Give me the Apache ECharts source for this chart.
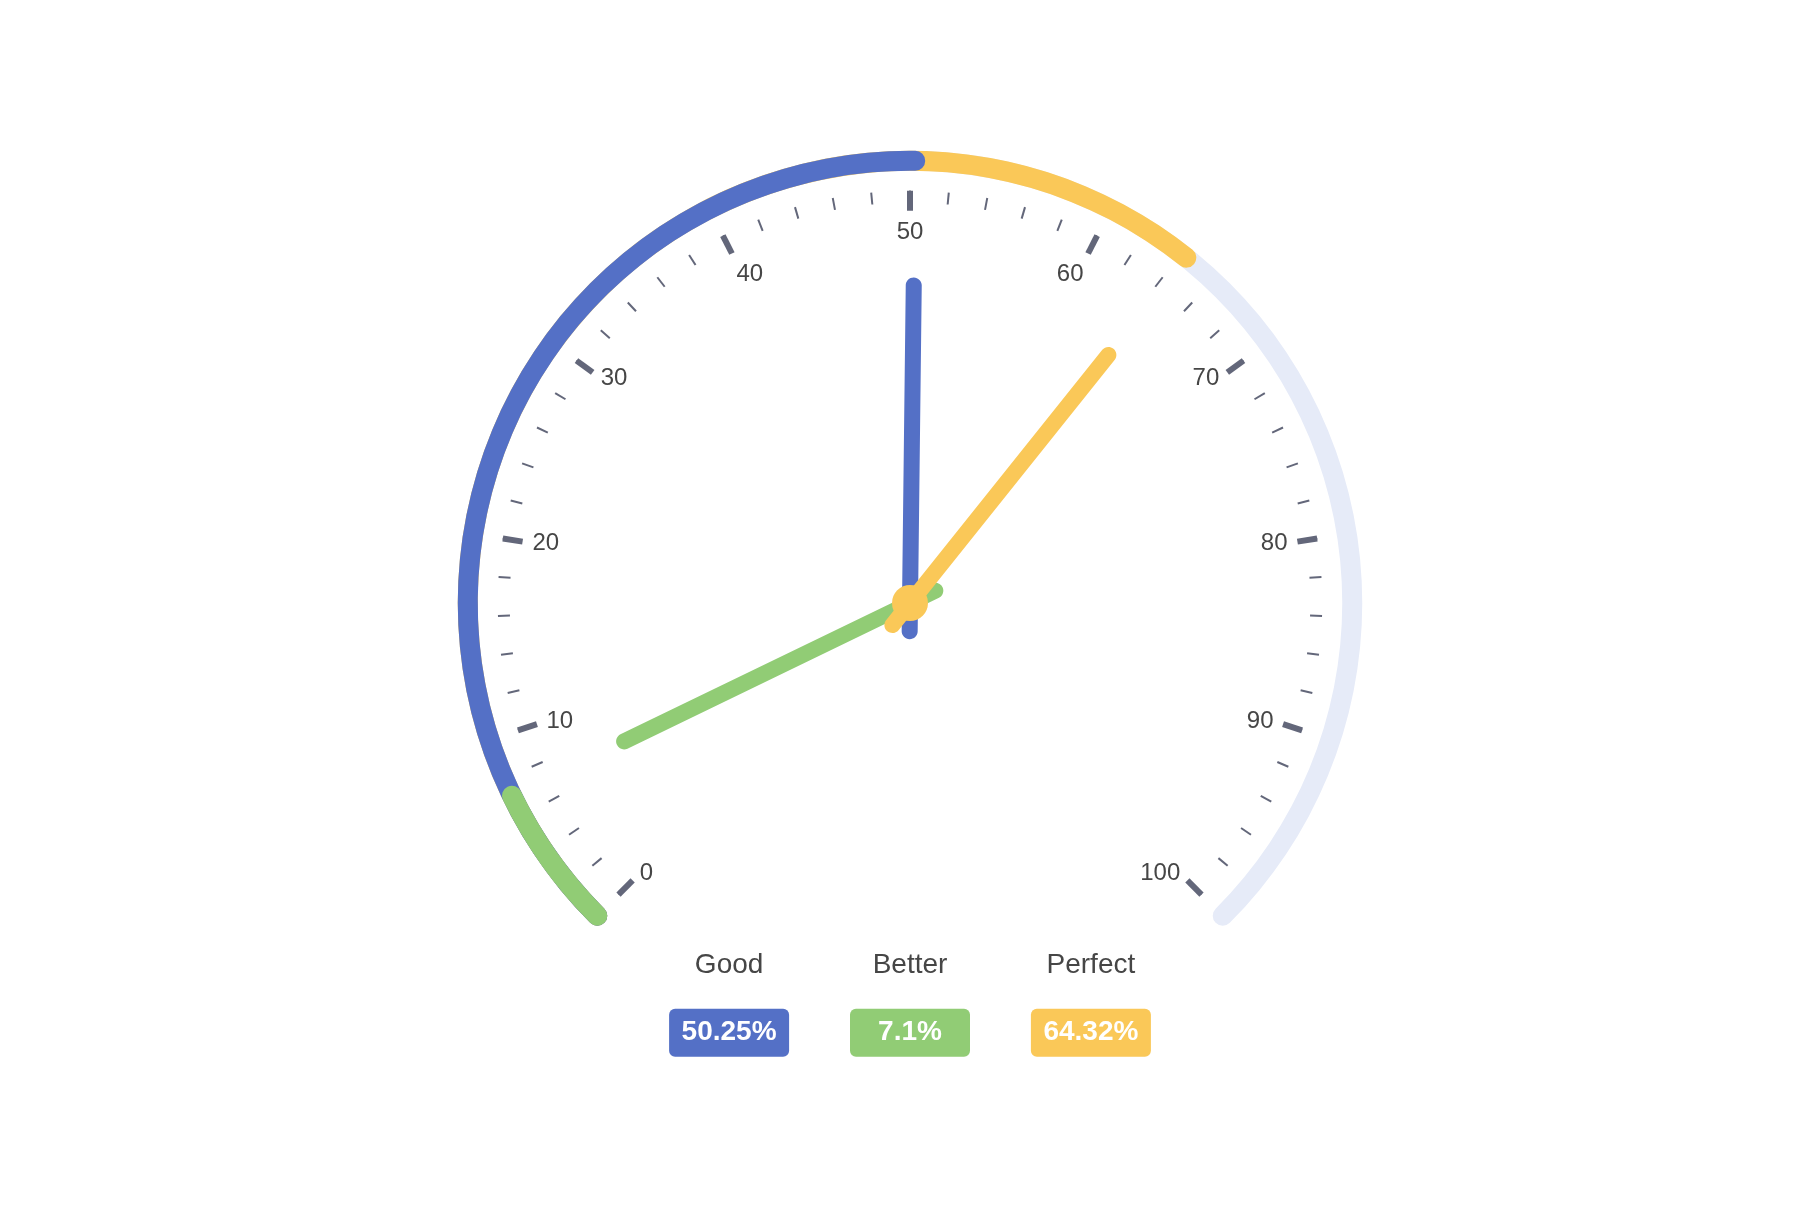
<!DOCTYPE html>
<html>
<head>
<meta charset="utf-8">
<script src="https://cdn.jsdelivr.net/npm/echarts@6/dist/echarts.min.js"></script>
<style>html,body{margin:0;padding:0;background:#fff;}#main{width:1820px;height:1206px;}</style>
</head>
<body>
<div id="main"></div>
<script>
const names = ['Good', 'Better', 'Perfect'];
const values = [50.25, 7.1, 64.32];
const titleX = ['-40%', '0%', '40%'];
const palette = ['#5470c6', '#91cc75', '#fac858'];

const FONT = 'Liberation Sans, Arial, sans-serif';
const gaugeData = names.map((n, i) => ({
  value: values[i],
  name: n,
  title: { offsetCenter: [titleX[i], '80%'] },
  detail: { offsetCenter: [titleX[i], '95%'] }
}));

const chart = echarts.init(document.getElementById('main'), null, { renderer: 'canvas' });
chart.setOption({
  animation: false,
  color: palette,
  textStyle: { fontFamily: FONT },
  series: [{
    type: 'gauge',
    radius: '75%',
    anchor: { show: true, showAbove: true, size: 36, itemStyle: { color: '#FAC858' } },
    pointer: {
      icon: 'path://M2.9,0.7L2.9,0.7c1.4,0,2.6,1.2,2.6,2.6v115c0,1.4-1.2,2.6-2.6,2.6l0,0c-1.4,0-2.6-1.2-2.6-2.6V3.3C0.3,1.9,1.4,0.7,2.9,0.7z',
      width: 16,
      length: '80%',
      offsetCenter: [0, '8%']
    },
    progress: { show: true, overlap: true, roundCap: true, width: 20 },
    axisLine: { roundCap: true, lineStyle: { width: 20, color: [[1, '#E6EBF8']] } },
    splitLine: { distance: 20, length: 20, lineStyle: { width: 6, color: '#63677A' } },
    axisTick: { distance: 20, length: 12, lineStyle: { width: 2, color: '#63677A' } },
    axisLabel: { distance: 30, fontSize: 24, color: '#464646', fontFamily: FONT },
    data: gaugeData,
    title: { fontSize: 28, color: '#464646', fontFamily: FONT },
    detail: {
      width: 80,
      height: 28,
      fontSize: 28,
      lineHeight: 28,
      padding: [10, 20],
      color: '#fff',
      backgroundColor: 'inherit',
      borderRadius: 6,
      fontFamily: FONT,
      formatter: '{value}%'
    }
  }]
});
</script>
</body>
</html>
